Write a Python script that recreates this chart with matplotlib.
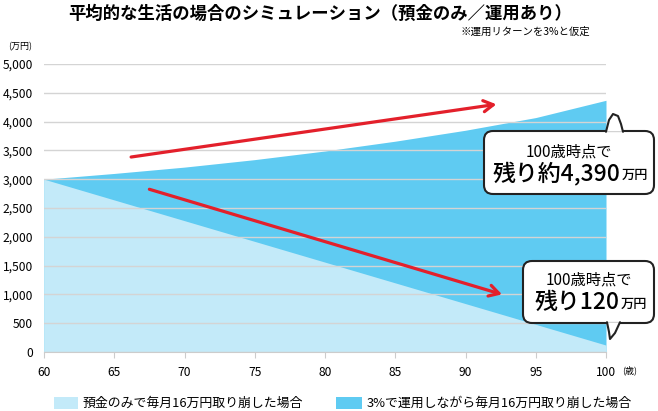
import matplotlib
matplotlib.use('Agg')
import matplotlib.pyplot as plt
from matplotlib.patches import FancyBboxPatch, Polygon

plt.rcParams['font.family'] = ['Noto Sans CJK JP', 'DejaVu Sans']

# データ
ages = [60, 65, 70, 75, 80, 85, 90, 95, 100]
deposit_only = [3000, 2640, 2280, 1920, 1560, 1200, 840, 480, 120]
with_invest = [3000, 3100, 3210, 3340, 3490, 3660, 3850, 4070, 4370]
yticks = [0, 500, 1000, 1500, 2000, 2500, 3000, 3500, 4000, 4500, 5000]
legend_labels = ['預金のみで毎月16万円取り崩した場合', '3%で運用しながら毎月16万円取り崩した場合']

light = '#c3eaf9'
dark = '#5fcbf2'
red = '#e3202b'

W, H = 658, 411
fig = plt.figure(figsize=(W / 100, H / 100), dpi=100)

def fx(x):
    return x / W

def fy(y):
    return 1 - y / H

ax = fig.add_axes([fx(44), fy(352), fx(606) - fx(44), fy(64) - fy(352)])
ax.fill_between(ages, 0, with_invest, color=dark, lw=0)
ax.fill_between(ages, 0, deposit_only, color=light, lw=0)
ax.set_xlim(60, 100)
ax.set_ylim(0, 5000)
ax.set_xticks(ages)
ax.set_yticks(yticks)
ax.set_yticklabels([f'{v:,}' for v in yticks])
ax.set_axisbelow(False)
ax.yaxis.grid(True, color='#d4d4d4', lw=1)
for s in ['top', 'right', 'left']:
    ax.spines[s].set_visible(False)
ax.spines['bottom'].set_color('#cccccc')
ax.tick_params(axis='y', length=0, labelsize=8.7, pad=8)
ax.tick_params(axis='x', length=4, color='#cccccc', labelsize=8.7, pad=6)

# 矢印
arrow_style = '->,head_length=0.7,head_width=0.4'
ax.annotate('', xy=(92.2, 4300), xytext=(66.2, 3385),
            arrowprops=dict(arrowstyle=arrow_style, color=red, lw=2.3,
                            shrinkA=0, shrinkB=0), zorder=5)
ax.annotate('', xy=(92.6, 1000), xytext=(67.5, 2825),
            arrowprops=dict(arrowstyle=arrow_style, color=red, lw=2.3,
                            shrinkA=0, shrinkB=0), zorder=5)

# 上乗せ用のピクセル座標の軸
ov = fig.add_axes([0, 0, 1, 1])
ov.set_xlim(0, W)
ov.set_ylim(H, 0)
ov.axis('off')

ov.text(320, 14, '平均的な生活の場合のシミュレーション（預金のみ／運用あり）',
        ha='center', va='center', fontsize=12.5, fontweight='bold')
ov.text(590, 32, '※運用リターンを3%と仮定', ha='right', va='center', fontsize=7.5)
ov.text(8, 47, '(万円)', ha='left', va='center', fontsize=6.5)
ov.text(622, 370, '(歳)', ha='left', va='center', fontsize=6.5)

# 吹き出し
def callout(x0, y0, x1, y1, tail, line1, big, small, cx, ty1, ty2):
    box = FancyBboxPatch((x0, y0), x1 - x0, y1 - y0,
                         boxstyle='round,pad=0,rounding_size=9',
                         fc='white', ec='#222222', lw=1.5, zorder=3)
    ov.add_patch(box)
    ov.add_patch(Polygon(tail, closed=True, fc='white', ec='none', zorder=4))
    tx = [p[0] for p in tail]
    ty = [p[1] for p in tail]
    ov.plot(tx, ty, color='#222222', lw=1.5, zorder=5, solid_capstyle='round')
    ov.text(cx, ty1, line1, ha='center', va='center', fontsize=11, zorder=6)
    t = ov.text(cx - 12, ty2, big, ha='center', va='center', fontsize=16.5,
                fontweight='medium', zorder=6)
    fig.canvas.draw()
    bb = t.get_window_extent().transformed(ov.transData.inverted())
    ov.text(bb.x1 + 1, ty2 + 2, small, ha='left', va='center', fontsize=9.5,
            fontweight='medium', zorder=6)

callout(484, 131, 654, 194,
        [(606, 131.8), (609, 120), (613, 114), (618, 116), (621, 124), (623, 131.8)],
        '100歳時点で', '残り約4,390', '万円', 569, 152, 173)
callout(523, 261, 654, 323,
        [(607, 322.2), (609, 332), (610, 339), (615, 333), (620, 322.2)],
        '100歳時点で', '残り120', '万円', 589, 280, 302)

# 凡例
ov.add_patch(plt.Rectangle((54, 397), 24, 12, fc=light, ec='none'))
ov.text(83, 403, legend_labels[0], ha='left', va='center', fontsize=9.3)
ov.add_patch(plt.Rectangle((336, 397), 26, 12, fc=dark, ec='none'))
ov.text(367, 403, legend_labels[1], ha='left', va='center', fontsize=9.3)

fig.savefig('out.png', dpi=100)
